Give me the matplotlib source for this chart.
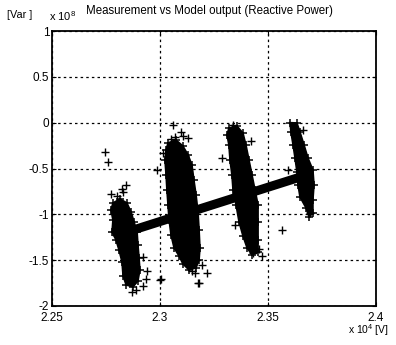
import numpy as np
import matplotlib
matplotlib.use("Agg")
import matplotlib.pyplot as plt
from matplotlib.patches import Polygon

plt.rcParams['font.family'] = ['Liberation Sans', 'DejaVu Sans']
plt.rcParams['mathtext.fontset'] = 'custom'
plt.rcParams['mathtext.rm'] = 'Liberation Sans'
plt.rcParams['mathtext.it'] = 'Liberation Sans'
plt.rcParams['mathtext.bf'] = 'Liberation Sans'

# Voltage in V, reactive power in units of 1e8 var
# Dense measurement clouds, outlined as (voltage, Q) boundary points
cloud1_v = [22782, 22815, 22847, 22866, 22880, 22894, 22898, 22903, 22907, 22898,
            22875, 22843, 22829, 22824, 22810, 22796, 22778, 22782, 22773]
cloud1_q = [-0.876, -0.832, -0.876, -0.974, -1.083, -1.192, -1.334, -1.475, -1.606, -1.726,
            -1.792, -1.770, -1.672, -1.519, -1.388, -1.279, -1.192, -1.061, -0.952]

cloud2_v = [23037, 23074, 23106, 23130, 23148, 23157, 23167, 23176, 23181, 23185, 23181,
            23167, 23134, 23106, 23088, 23065, 23051, 23042, 23037, 23032, 23028, 23023, 23028]
cloud2_q = [-0.221, -0.189, -0.254, -0.352, -0.461, -0.625, -0.788, -0.974, -1.170, -1.366, -1.497,
            -1.584, -1.606, -1.541, -1.454, -1.366, -1.225, -1.061, -0.897, -0.734, -0.570, -0.407, -0.298]

cloud3_v = [23319, 23356, 23384, 23398, 23412, 23426, 23440, 23454, 23454, 23454, 23454,
            23426, 23403, 23384, 23366, 23352, 23338, 23333, 23324, 23319, 23310]
cloud3_q = [-0.058, -0.036, -0.112, -0.243, -0.407, -0.570, -0.734, -0.897, -1.083, -1.279, -1.410,
            -1.443, -1.366, -1.236, -1.083, -0.897, -0.734, -0.570, -0.407, -0.243, -0.134]

cloud4_v = [23602, 23634, 23648, 23667, 23685, 23708, 23713, 23708, 23708, 23690,
            23676, 23648, 23639, 23634, 23625, 23616, 23606]
cloud4_q = [0.000, -0.003, -0.101, -0.243, -0.385, -0.516, -0.679, -0.843, -0.985, -1.028,
            -0.930, -0.810, -0.679, -0.538, -0.385, -0.243, -0.101]

# Isolated measurement points
meas_v = [22745, 22759, 22773, 22824, 22843, 22870, 22921, 22940, 22921, 22796, 23000, 23176,
          23060, 23069, 23106, 23130, 23014, 23116, 22986, 23287, 23162, 23218, 23181, 23005,
          23333, 23361, 23347, 23431, 23472, 23565, 23593, 23694,
          22800, 22830, 22890, 22935, 23050, 23095, 23150, 23196, 23340, 23420, 23460, 23660]
meas_q = [-0.320, -0.429, -0.778, -0.723, -0.679, -1.846, -1.781, -1.617, -1.465, -1.225, -1.715, -1.748,
          -0.025, -0.156, -0.145, -0.167, -0.330, -0.363, -0.516, -0.385, -1.639, -1.639, -1.748, -1.704,
          -0.058, -0.112, -1.116, -1.421, -1.454, -1.170, -0.516, -0.985,
          -0.800, -0.760, -1.820, -1.700, -0.180, -0.100, -1.620, -1.550, -0.020, -0.200, -1.380, -0.080]

# Model output (linear trend over the measured voltage range)
model_v = [22860, 23700]
model_q = [-1.183, -0.555]

x_ticks = [22500, 23000, 23500, 24000]
x_labels = ['2.25', '2.3', '2.35', '2.4']
y_ticks = [1, 0.5, 0, -0.5, -1, -1.5, -2]
y_labels = ['1', '0.5', '0', '-0.5', '-1', '-1.5', '-2']

fig = plt.figure(figsize=(3.96, 3.45), dpi=100)
ax = fig.add_axes([52 / 396, 1 - 306 / 345, 324 / 396, 275 / 345])

for cv, cq in [(cloud1_v, cloud1_q), (cloud2_v, cloud2_q),
               (cloud3_v, cloud3_q), (cloud4_v, cloud4_q)]:
    ax.add_patch(Polygon(np.column_stack([cv, cq]), closed=True,
                         facecolor='black', edgecolor='black', lw=1.2, zorder=3))
    ax.plot(cv, cq, '+', color='black', ms=6, mew=1.1, zorder=3)

ax.plot(meas_v, meas_q, '+', color='black', ms=5.5, mew=1.0, zorder=3)
ax.plot(model_v, model_q, '-', color='black', lw=6.5, solid_capstyle='butt', zorder=4)

ax.set_xlim(22500, 24000)
ax.set_ylim(-2, 1)
ax.set_xticks(x_ticks)
ax.set_xticklabels(x_labels)
ax.set_yticks(y_ticks)
ax.set_yticklabels(y_labels)
ax.tick_params(direction='in', length=3, width=0.8, labelsize=8.5, pad=2,
               top=True, right=True, colors='black')
ax.tick_params(axis='x', pad=4)
ax.grid(True, color='black', linestyle=(0, (2, 2.5)), linewidth=0.9)
for s in ax.spines.values():
    s.set_linewidth(1.3)
    s.set_color('black')

fig.text(209 / 396, 1 - 11 / 345, 'Measurement vs Model output (Reactive Power)',
         ha='center', va='center', fontsize=8.3)
fig.text(7 / 396, 1 - 15 / 345, '[Var ]', ha='left', va='center', fontsize=7.8)
fig.text(49 / 396, 1 - 21 / 345, r'x 10$^{8}$', ha='left', va='baseline', fontsize=8)
fig.text(348 / 396, 1 - 334 / 345, r'x 10$^{4}$ [V]', ha='left', va='baseline', fontsize=7.5)

fig.savefig('out.png', dpi=100, facecolor='white')
